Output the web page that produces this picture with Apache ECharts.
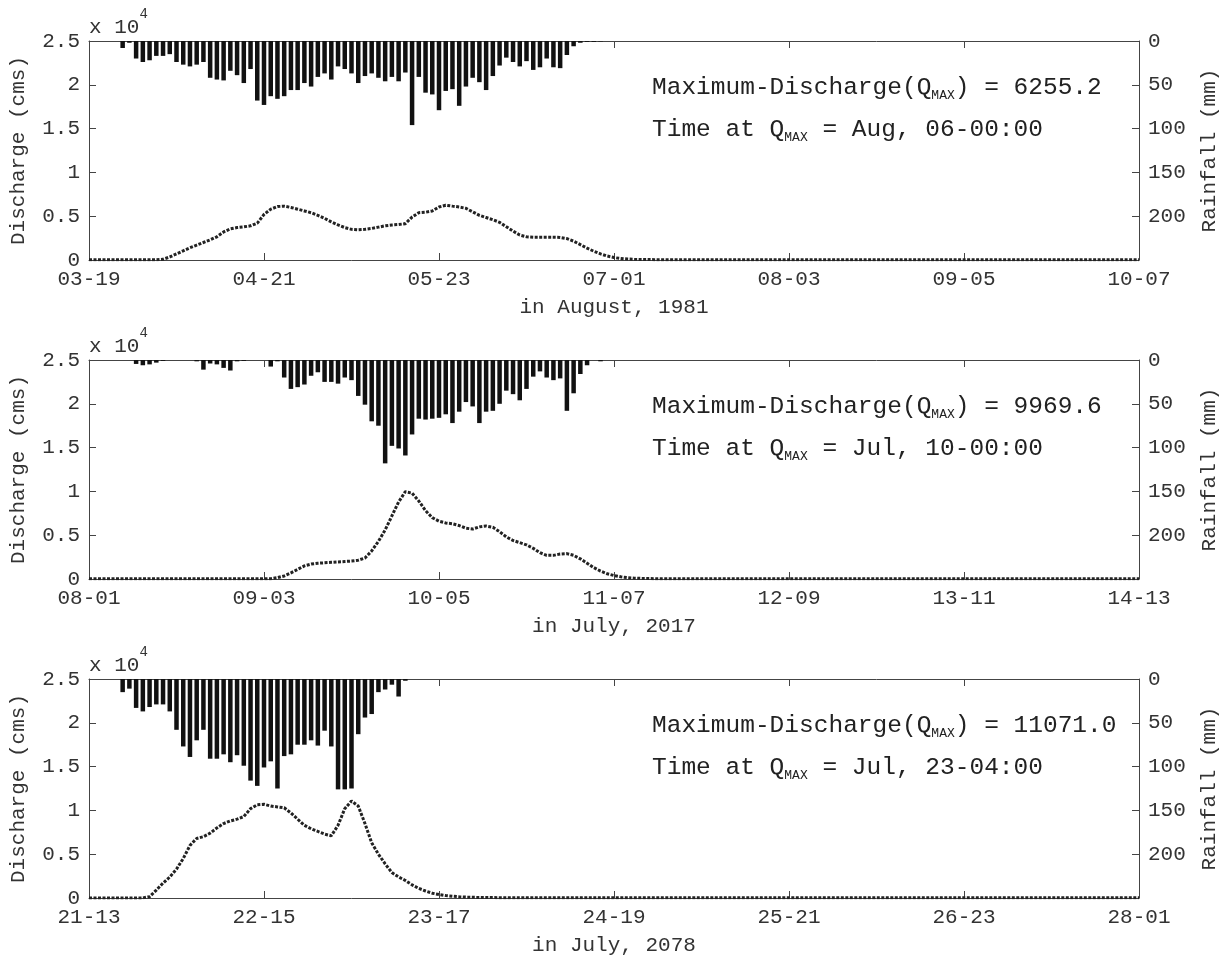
<!DOCTYPE html>
<html>
<head>
<meta charset="utf-8">
<title>Discharge and rainfall</title>
<script src="https://cdn.jsdelivr.net/npm/echarts@6/dist/echarts.min.js"></script>
<style>
  html, body { margin: 0; padding: 0; background: #fff; }
  #main { width: 1228px; height: 957px; }
</style>
</head>
<body>
<div id="main"></div>
<script>
// tick labels (day-hour), one every 26 hours
const ticks1 = ['03-19', '04-21', '05-23', '07-01', '08-03', '09-05', '10-07'];
const ticks2 = ['08-01', '09-03', '10-05', '11-07', '12-09', '13-11', '14-13'];
const ticks3 = ['21-13', '22-15', '23-17', '24-19', '25-21', '26-23', '28-01'];
const xNames = ['in August, 1981', 'in July, 2017', 'in July, 2078'];
const qMax = ['6255.2', '9969.6', '11071.0'];
const tMax = ['Aug, 06-00:00', 'Jul, 10-00:00', 'Jul, 23-04:00'];

// hourly rainfall (mm), from hour 0
const rain1 = [
  0, 0, 0, 0, 0, 8, 2, 20, 24, 22,
  17, 17, 15, 24, 27, 29, 27, 24, 42, 44,
  45, 34, 39, 48, 32, 68, 73, 63, 66, 63,
  56, 56, 48, 52, 41, 37, 44, 29, 32, 37,
  48, 40, 37, 42, 46, 41, 46, 36, 96, 41,
  59, 61, 79, 57, 55, 74, 52, 42, 47, 56,
  40, 28, 19, 24, 29, 23, 33, 30, 20, 30,
  31, 16, 6, 2, 1, 1, 0.5
];
const rain2 = [
  0, 0, 0, 0, 0, 0, 0, 4.5, 6, 5,
  3, 1, 0, 0, 0, 0, 1.5, 11, 4, 5,
  9, 12, 1.5, 1, 0, 0, 0, 7.5, 1.5, 20,
  33, 31, 28, 18, 14, 25, 25, 27, 20, 23,
  41, 51, 70, 75, 118, 98, 101, 109, 85, 67,
  68, 67, 66, 62, 72, 59, 48, 53, 72, 59,
  58, 50, 35, 39, 46, 33, 19, 13, 20, 23,
  21, 58, 38, 16, 6, 0, 1.5
];
const rain3 = [
  0, 0, 0, 0, 0, 15, 11, 33, 37, 32,
  29, 29, 37, 58, 77, 89, 70, 58, 91, 91,
  86, 95, 87, 99, 116, 122, 101, 94, 125, 88,
  86, 75, 75, 70, 76, 59, 77, 126, 126, 125,
  63, 44, 40, 15, 12, 6.5, 20, 2
];

// hourly discharge (cms), hours 0..156
const q1 = [
  20, 20, 20, 20, 20, 20, 20, 20, 20, 20, 20,
  80, 350, 700, 1050, 1400, 1700, 2000, 2300, 2650, 3200,
  3550, 3700, 3780, 3900, 4200, 5200, 5800, 6100, 6150, 6000,
  5800, 5600, 5400, 5100, 4750, 4350, 4000, 3700, 3500, 3450,
  3500, 3600, 3750, 3900, 4000, 4050, 4150, 4900, 5400, 5450,
  5600, 6050, 6255, 6150, 6050, 5900, 5500, 5100, 4850, 4600,
  4300, 3800, 3300, 2850, 2650, 2600, 2600, 2600, 2600, 2580,
  2450, 2150, 1750, 1350, 1000, 700, 450, 280, 170, 110,
  80, 60, 50, 40, 35, 30, 28, 26, 24, 22,
  20, 20, 20, 20, 20, 20, 20, 20, 20, 20, 20,
  20, 20, 20, 20, 20, 20, 20, 20, 20, 20, 20,
  20, 20, 20, 20, 20, 20, 20, 20, 20, 20, 20,
  20, 20, 20, 20, 20, 20, 20, 20, 20, 20, 20,
  20, 20, 20, 20, 20, 20, 20, 20, 20, 20, 20,
  20, 20, 20, 20, 20, 20, 20, 20, 20, 20, 20
];
const q2 = [
  15, 15, 15, 15, 15, 15, 15, 15, 15,
  15, 15, 15, 15, 15, 15, 15, 15, 15,
  15, 15, 15, 15, 15, 15, 15, 15, 15,
  40, 150, 350, 700, 1100, 1500, 1700, 1800, 1850, 1900,
  1950, 2000, 2050, 2150, 2400, 3200, 4300, 5600, 7200, 8800,
  9970, 9800, 8900, 7800, 7000, 6600, 6400, 6300, 6100, 5800,
  5700, 5950, 6050, 5900, 5400, 4800, 4400, 4150, 3900, 3500,
  3000, 2700, 2700, 2850, 2900, 2700, 2300, 1800, 1300, 900,
  600, 400, 250, 160, 100, 70, 50, 40, 30, 30,
  30, 30, 30, 30, 25, 25, 25, 25, 20, 20,
  20, 20, 20, 20, 20, 20, 20, 20, 20, 20,
  20, 20, 20, 20, 20, 20, 20, 20, 20, 20,
  20, 20, 20, 20, 20, 20, 20, 20, 20, 20,
  20, 20, 20, 20, 20, 20, 20, 20, 20, 20,
  20, 20, 20, 20, 20, 20, 20, 20, 20, 20,
  20, 20, 20, 20, 20, 20, 20, 20, 20, 20
];
const q3 = [
  10, 10, 10, 10, 10, 10, 10, 10, 10,
  150, 900, 1700, 2400, 3300, 4500, 6000, 6800, 7000, 7400,
  8000, 8500, 8800, 9000, 9300, 10200, 10650, 10700, 10500, 10400,
  10300, 9700, 9000, 8300, 7900, 7600, 7300, 7100, 8300, 10200,
  11071, 10500, 8500, 6300, 5000, 3900, 2900, 2400, 2000, 1500,
  1100, 800, 550, 400, 280, 200, 140, 100, 80, 60,
  50, 45, 40, 35, 32, 30, 28, 26, 24, 22,
  20, 20, 20, 20, 20, 20, 20, 20, 20, 20, 20,
  20, 20, 20, 20, 20, 20, 20, 20, 20, 20, 20,
  20, 20, 20, 20, 20, 20, 20, 20, 20, 20, 20,
  20, 20, 20, 20, 20, 20, 20, 20, 20, 20, 20,
  20, 20, 20, 20, 20, 20, 20, 20, 20, 20, 20,
  20, 20, 20, 20, 20, 20, 20, 20, 20, 20, 20,
  20, 20, 20, 20, 20, 20, 20, 20, 20, 20, 20,
  20, 20, 20, 20, 20, 20, 20, 20, 20, 20, 20
];

const panels = [
  { ticks: ticks1, rain: rain1, q: q1 },
  { ticks: ticks2, rain: rain2, q: q2 },
  { ticks: ticks3, rain: rain3, q: q3 }
];

const font = '"Liberation Mono", "DejaVu Sans Mono", monospace';
const axisColor = '#444';
const gLeft = 89, gWidth = 1050, gHeight = 219;
const tops = [41, 360, 679];

const chart = echarts.init(document.getElementById('main'));

const grid = [], xAxis = [], yAxis = [], series = [], graphic = [];

panels.forEach((p, i) => {
  const top = tops[i];
  grid.push({ left: gLeft, top: top, width: gWidth, height: gHeight, show: false });

  const boxLine = { show: true, onZero: false, lineStyle: { color: axisColor, width: 1 } };
  const tick = { show: true, inside: true, length: 7, lineStyle: { color: axisColor } };
  const lbl = { fontFamily: font, fontSize: 21, color: '#333' };
  const nameStyle = { fontFamily: font, fontSize: 21, color: '#333' };

  // bottom axis with labels
  xAxis.push({
    gridIndex: i, type: 'value', min: 0, max: 156, interval: 26, position: 'bottom',
    axisLine: boxLine, axisTick: tick, splitLine: { show: false },
    axisLabel: Object.assign({ margin: 9, formatter: v => p.ticks[Math.round(v / 26)] }, lbl),
    name: xNames[i], nameLocation: 'middle', nameGap: 37, nameTextStyle: nameStyle
  });
  // top edge of the box
  xAxis.push({
    gridIndex: i, type: 'value', min: 0, max: 156, interval: 26, position: 'top',
    axisLine: boxLine, axisTick: tick, splitLine: { show: false }, axisLabel: { show: false }
  });

  yAxis.push({
    gridIndex: i, type: 'value', min: 0, max: 25000, interval: 5000, position: 'left',
    axisLine: boxLine, axisTick: tick, splitLine: { show: false },
    axisLabel: Object.assign({ margin: 9, formatter: v => String(v / 10000) }, lbl),
    name: 'Discharge (cms)', nameLocation: 'middle', nameRotate: 90, nameGap: 60,
    nameTextStyle: nameStyle
  });
  yAxis.push({
    gridIndex: i, type: 'value', min: 0, max: 250, interval: 50, position: 'right', inverse: true,
    axisLine: boxLine, axisTick: tick, splitLine: { show: false },
    axisLabel: Object.assign({ margin: 9, formatter: v => (v === 250 ? '' : String(v)) }, lbl),
    name: 'Rainfall (mm)', nameLocation: 'middle', nameRotate: 90, nameGap: 60,
    nameTextStyle: nameStyle
  });

  series.push({
    type: 'bar', xAxisIndex: 2 * i, yAxisIndex: 2 * i + 1,
    data: p.rain.map((v, h) => [h, v]),
    barWidth: 4.5, itemStyle: { color: '#111' }, silent: true
  });
  series.push({
    type: 'line', xAxisIndex: 2 * i, yAxisIndex: 2 * i,
    data: p.q.map((v, h) => [h, v]),
    symbol: 'none', smooth: false,
    lineStyle: { color: '#222', width: 3, type: [3, 1.5] }, silent: true
  });

  graphic.push({
    type: 'text', left: gLeft, top: top - 34,
    style: {
      text: '{a|x 10}{b|4}',
      rich: {
        a: { fontFamily: font, fontSize: 21, fill: '#333', lineHeight: 40 },
        b: { fontFamily: font, fontSize: 14, fill: '#333', lineHeight: 16, verticalAlign: 'top' }
      }
    }
  });
  const rich = {
    n: { fontFamily: font, fontSize: 24.5, fill: '#222', lineHeight: 30 },
    s: { fontFamily: font, fontSize: 13, fill: '#222', lineHeight: 20, verticalAlign: 'bottom' }
  };
  graphic.push({
    type: 'text', left: 652, top: top + 34,
    style: { text: '{n|Maximum-Discharge(Q}{s|MAX}{n|) = ' + qMax[i] + '}', rich: rich }
  });
  graphic.push({
    type: 'text', left: 652, top: top + 76,
    style: { text: '{n|Time at Q}{s|MAX}{n| = ' + tMax[i] + '}', rich: rich }
  });
});

chart.setOption({
  backgroundColor: '#fff',
  animation: false,
  grid: grid,
  xAxis: xAxis,
  yAxis: yAxis,
  series: series,
  graphic: graphic
});
</script>
</body>
</html>
